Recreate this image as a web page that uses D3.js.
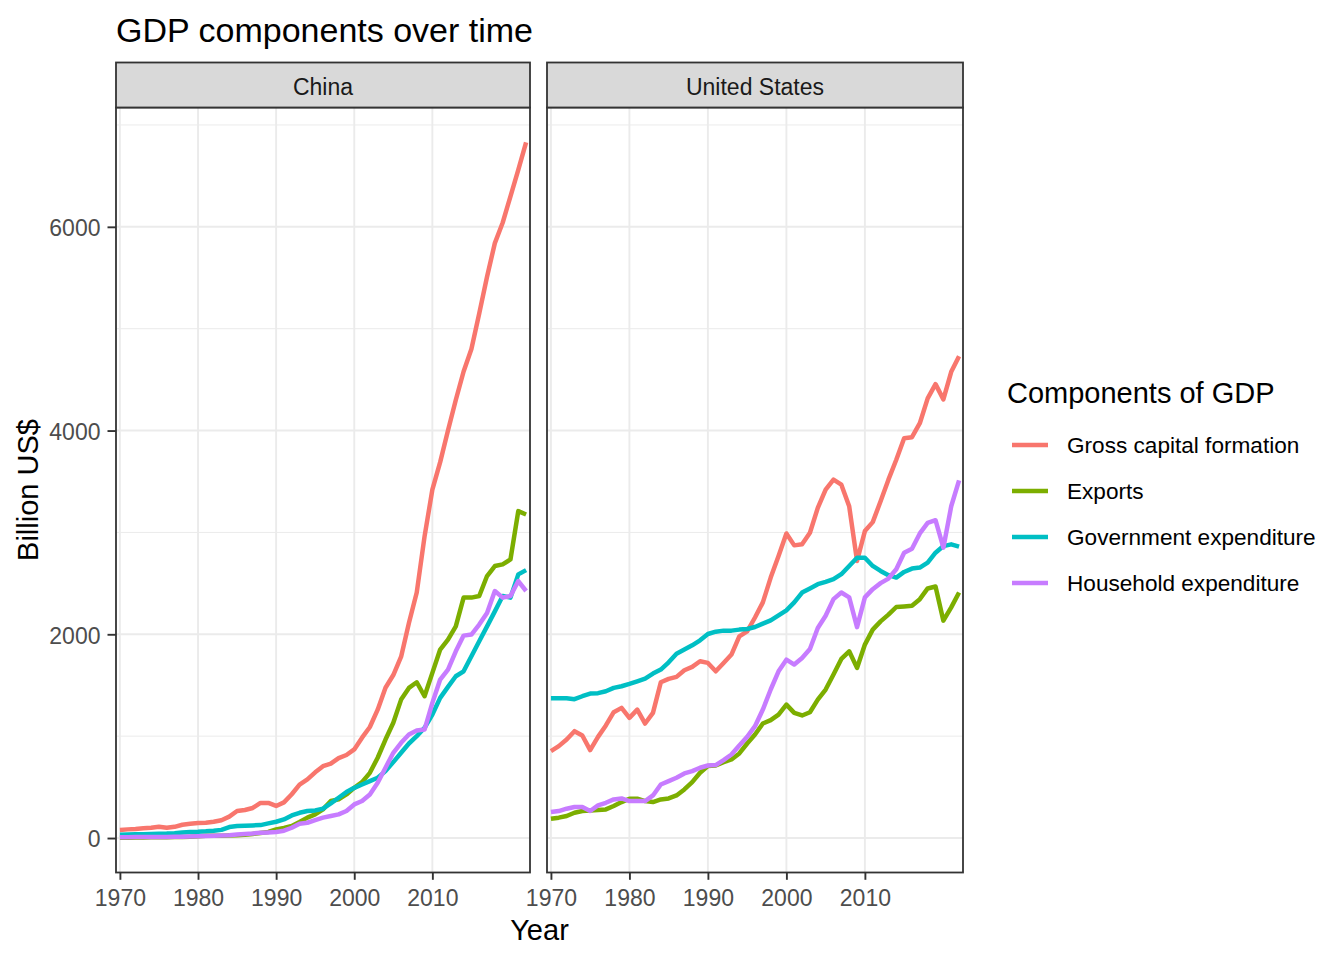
<!DOCTYPE html>
<html>
<head>
<meta charset="utf-8">
<script src="https://cdn.jsdelivr.net/npm/d3@7/dist/d3.min.js"></script>
<style>
body { margin: 0; background: #fff; }
text { font-family: "Liberation Sans", Arial, sans-serif; }
</style>
</head>
<body>
<script>
const years = d3.range(1970, 2023);
const components = ['Gross capital formation', 'Exports', 'Government expenditure', 'Household expenditure'];
const countries = ['China', 'United States'];
const xBreaks = [1970, 1980, 1990, 2000, 2010];
const yBreaks = [0, 2000, 4000, 6000];
const yMinor = [1000, 3000, 5000, 7000];

// billion US$, 1970..2022
const chinaGCF = [80, 85, 88, 95, 100, 110, 100, 110, 130, 140,
    147, 150, 160, 175, 210, 265, 275, 295, 345, 345,
    315, 350, 430, 525, 575, 645, 705, 730, 785, 815,
    870, 985, 1090, 1260, 1475, 1600, 1780, 2110, 2410, 2960,
    3420, 3690, 4000, 4300, 4580, 4800, 5150, 5510, 5840, 6040,
    6300, 6560, 6830];
const chinaExports = [3, 3, 4, 6, 8, 8, 8, 9, 10, 13,
    18, 22, 22, 22, 26, 27, 31, 40, 50, 60,
    85, 100, 118, 157, 200, 232, 281, 363, 380, 428,
    493, 549, 640, 788, 967, 1131, 1359, 1474, 1529, 1392,
    1621, 1850, 1948, 2078, 2360, 2360, 2376, 2572, 2670, 2686,
    2735, 3209, 3176];
const chinaGov = [33, 34, 36, 38, 40, 42, 44, 48, 55, 60,
    62, 66, 72, 80, 108, 118, 121, 124, 127, 144,
    160, 183, 222, 248, 265, 271, 288, 340, 395, 451,
    493, 526, 559, 592, 657, 745, 837, 928, 1000, 1082,
    1212, 1376, 1484, 1588, 1637, 1784, 1931, 2078, 2225, 2376,
    2360, 2588, 2630];
const chinaHousehold = [8, 8, 9, 10, 10, 11, 11, 12, 13, 15,
    17, 20, 22, 25, 28, 35, 40, 45, 52, 55,
    59, 72, 101, 140, 150, 176, 200, 216, 232, 265,
    330, 363, 428, 542, 690, 837, 935, 1016, 1056, 1065,
    1327, 1556, 1654, 1833, 1987, 1997, 2095, 2209, 2425, 2360,
    2376, 2523, 2425];
const usGCF = [853, 902, 967, 1049, 1006, 863, 993, 1105, 1235, 1278,
    1180, 1261, 1124, 1229, 1529, 1562, 1582, 1647, 1680, 1735,
    1719, 1637, 1719, 1801, 1980, 2029, 2165, 2313, 2557, 2769,
    2990, 2873, 2883, 2997, 3241, 3420, 3518, 3469, 3257, 2720,
    3013, 3101, 3306, 3518, 3713, 3925, 3935, 4072, 4316, 4456,
    4306, 4577, 4730];
const usExports = [190, 200, 216, 248, 265, 271, 275, 281, 314, 353,
    386, 386, 363, 353, 379, 389, 418, 477, 549, 641,
    706, 712, 745, 771, 830, 928, 1016, 1124, 1157, 1212,
    1310, 1229, 1203, 1235, 1359, 1458, 1605, 1758, 1833, 1670,
    1899, 2046, 2127, 2193, 2268, 2274, 2281, 2345, 2450, 2469,
    2134, 2264, 2410];
const usGov = [1373, 1373, 1373, 1363, 1392, 1418, 1422, 1441, 1474, 1490,
    1513, 1539, 1565, 1614, 1654, 1725, 1810, 1850, 1892, 1941,
    2003, 2026, 2036, 2036, 2046, 2052, 2072, 2105, 2137, 2186,
    2235, 2313, 2410, 2450, 2492, 2515, 2541, 2590, 2671, 2752,
    2752, 2671, 2622, 2580, 2557, 2612, 2645, 2655, 2704, 2801,
    2866, 2883, 2860];
const usHousehold = [255, 265, 288, 304, 304, 265, 320, 346, 379, 389,
    363, 363, 363, 418, 526, 559, 592, 634, 657, 690,
    712, 716, 765, 820, 909, 993, 1098, 1261, 1458, 1637,
    1751, 1703, 1768, 1856, 2062, 2182, 2345, 2410, 2362, 2070,
    2362, 2443, 2502, 2547, 2638, 2801, 2840, 2990, 3094, 3120,
    2850, 3257, 3511];

const seriesByCountry = {
    'China': [chinaGCF, chinaExports, chinaGov, chinaHousehold],
    'United States': [usGCF, usExports, usGov, usHousehold],
};
const colours = ['#F8766D', '#7CAE00', '#00BFC4', '#C77CFF'];


function plot(svg)
{
    const panelTop = 107.5, panelBottom = 872.5, stripTop = 62.5;
    const panelX = [[116, 530], [547, 963]];
    const grey20 = '#333333';
    const lineWidth = 4.5;

    const allValues = countries.flatMap(c => seriesByCountry[c].flat());
    const [lo, hi] = d3.extent(allValues);
    const pad = (hi - lo) * 0.05;
    const scY = d3.scaleLinear()
        .domain([lo - pad, hi + pad])
        .range([panelBottom, panelTop]);
    const [x0, x1] = d3.extent(years);

    const colour = d3.scaleOrdinal().domain(components).range(colours);

    countries.forEach((country, i) => {
        const [left, right] = panelX[i];
        const scX = d3.scaleLinear()
            .domain([x0 - 0.5, x1 + 0.5])
            .range([left, right]);
        const g = svg.append('g');

        // grid
        g.selectAll('line.minor').data(yMinor).enter().append('line')
            .attr('x1', left).attr('x2', right)
            .attr('y1', d => scY(d)).attr('y2', d => scY(d))
            .attr('stroke', '#EBEBEB').attr('stroke-width', 1);
        g.selectAll('line.majorY').data(yBreaks).enter().append('line')
            .attr('x1', left).attr('x2', right)
            .attr('y1', d => scY(d)).attr('y2', d => scY(d))
            .attr('stroke', '#EBEBEB').attr('stroke-width', 1.9);
        g.selectAll('line.majorX').data(xBreaks).enter().append('line')
            .attr('x1', d => scX(d)).attr('x2', d => scX(d))
            .attr('y1', panelTop).attr('y2', panelBottom)
            .attr('stroke', '#EBEBEB').attr('stroke-width', 1.9);

        // lines
        const lineMaker = d3.line()
            .x((d, j) => scX(years[j]))
            .y(d => scY(d));
        g.selectAll('path.series')
            .data(seriesByCountry[country]).enter().append('path')
            .attr('fill', 'none')
            .attr('stroke', (d, k) => colour(components[k]))
            .attr('stroke-width', lineWidth)
            .attr('stroke-linejoin', 'round')
            .attr('d', d => lineMaker(d));

        // border
        g.append('rect')
            .attr('x', left).attr('y', panelTop)
            .attr('width', right - left).attr('height', panelBottom - panelTop)
            .attr('fill', 'none').attr('stroke', grey20).attr('stroke-width', 1.8);

        // strip
        g.append('rect')
            .attr('x', left).attr('y', stripTop)
            .attr('width', right - left).attr('height', panelTop - stripTop)
            .attr('fill', '#D9D9D9').attr('stroke', grey20).attr('stroke-width', 1.8);
        g.append('text')
            .attr('x', (left + right) / 2).attr('y', (stripTop + panelTop) / 2 + 2)
            .attr('dy', '0.35em').attr('text-anchor', 'middle')
            .attr('font-size', 23).attr('fill', '#1A1A1A')
            .text(country);

        // x axis
        const ax = g.append('g')
            .attr('transform', `translate(0, ${panelBottom})`)
            .call(d3.axisBottom(scX).tickValues(xBreaks).tickFormat(d3.format('d'))
                .tickSize(7.3).tickPadding(10));
        ax.select('.domain').remove();
        ax.selectAll('line').attr('stroke', grey20).attr('stroke-width', 1.9);
        ax.selectAll('text').attr('font-size', 23).attr('fill', '#4D4D4D')
            .attr('font-family', '"Liberation Sans", Arial, sans-serif');

        if (i === 0) {
            const ay = g.append('g')
                .attr('transform', `translate(${left}, 0)`)
                .call(d3.axisLeft(scY).tickValues(yBreaks).tickFormat(d3.format('d'))
                    .tickSize(8.5).tickPadding(7));
            ay.select('.domain').remove();
            ay.selectAll('line').attr('stroke', grey20).attr('stroke-width', 1.9);
            ay.selectAll('text').attr('font-size', 23).attr('fill', '#4D4D4D')
                .attr('font-family', '"Liberation Sans", Arial, sans-serif')
                .attr('y', 1.5);
        }
    });

    // titles
    svg.append('text')
        .attr('x', 116).attr('y', 42)
        .attr('font-size', 34).attr('fill', '#000')
        .text('GDP components over time');
    svg.append('text')
        .attr('x', (panelX[0][0] + panelX[1][1]) / 2).attr('y', 940)
        .attr('text-anchor', 'middle').attr('font-size', 29)
        .text('Year');
    svg.append('text')
        .attr('transform', `translate(38, ${(panelTop + panelBottom) / 2}) rotate(-90)`)
        .attr('text-anchor', 'middle').attr('font-size', 29)
        .text('Billion US$');

    // legend
    const legend = svg.append('g').attr('transform', 'translate(1007, 0)');
    legend.append('text')
        .attr('x', 0).attr('y', 403)
        .attr('font-size', 29)
        .text('Components of GDP');
    const items = legend.selectAll('g.item')
        .data(components).enter().append('g')
        .attr('transform', (d, k) => `translate(0, ${445 + k * 46})`);
    items.append('line')
        .attr('x1', 5).attr('x2', 41)
        .attr('stroke', d => colour(d)).attr('stroke-width', lineWidth);
    items.append('text')
        .attr('x', 60).attr('dy', '0.35em')
        .attr('font-size', 22.6)
        .text(d => d);
}

function main()
{
    const svg = d3.select('body')
        .append('svg')
        .attr('width', 1344)
        .attr('height', 960);
    plot(svg);
}

main();
</script>
</body>
</html>
